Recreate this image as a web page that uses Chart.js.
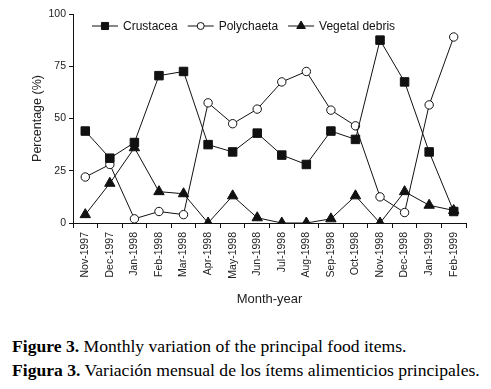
<!DOCTYPE html>
<html>
<head>
<meta charset="utf-8">
<script src="https://cdn.jsdelivr.net/npm/chart.js@4"></script>
<style>
  body { margin: 0; background: #fff; width: 491px; height: 389px; position: relative; overflow: hidden; }
  #wrap { position: absolute; left: 0; top: 0; width: 491px; height: 315px; }
  .cap { position: absolute; left: 12px; font-family: "Liberation Serif", "Times New Roman", serif; font-size: 17.6px; line-height: 20px; color: #000; white-space: nowrap; }
</style>
</head>
<body>
<div id="wrap"><canvas id="food"></canvas></div>
<div class="cap" style="top:336px"><b>Figure 3.</b> Monthly variation of the principal food items.</div>
<div class="cap" style="top:360px"><b>Figura 3.</b> Variación mensual de los ítems alimenticios principales.</div>
<script>
const months = ["Nov-1997", "Dec-1997", "Jan-1998", "Feb-1998", "Mar-1998", "Apr-1998", "May-1998", "Jun-1998",
  "Jul-1998", "Aug-1998", "Sep-1998", "Oct-1998", "Nov-1998", "Dec-1998", "Jan-1999", "Feb-1999"];
const crustacea = [44, 31, 38.5, 70.5, 72.5, 37.5, 34, 43, 32.5, 28, 44, 40, 87.5, 67.5, 34, 5.5];
const polychaeta = [22, 28, 2, 5.5, 4, 57.5, 47.5, 54.5, 67.5, 72.5, 54, 46.5, 12.5, 5, 56.5, 89];
const vegetal = [4, 19, 36, 15, 14, 0, 13, 2.5, 0, 0, 2, 13, 0, 15, 8.5, 6];
const yTicks = [0, 25, 50, 75, 100];

// leyenda dibujada a mano: línea - marcador - línea, como en la figura original
const legendaLinea = {
  id: "legendaLinea",
  afterDraw: (chart) => {
    const ctx = chart.ctx;
    ctx.save();
    ctx.font = "12px 'Liberation Sans', Arial, sans-serif";
    ctx.textBaseline = "middle";
    let x = 92;
    const y = 26;
    chart.data.datasets.forEach((ds) => {
      ctx.strokeStyle = "#111";
      ctx.lineWidth = 1;
      ctx.beginPath();
      ctx.moveTo(x, y);
      ctx.lineTo(x + 26, y);
      ctx.stroke();
      ctx.fillStyle = ds.pointBackgroundColor;
      Chart.helpers.drawPoint(ctx, {
        pointStyle: ds.pointStyle,
        radius: ds.legendRadius,
        rotation: 0,
        borderWidth: 1,
      }, x + 13, y);
      ctx.fillStyle = "#111";
      ctx.fillText(ds.label, x + 31, y + 1);
      x += 31 + ctx.measureText(ds.label).width + 10;
    });
    ctx.restore();
  },
};

const ctx = document.getElementById("food").getContext("2d");
new Chart(ctx, {
  type: "line",
  data: {
    labels: months,
    datasets: [
      {
        label: "Crustacea",
        data: crustacea,
        borderColor: "#111",
        borderWidth: 1,
        pointStyle: "rect",
        pointRadius: 6,
        legendRadius: 5,
        pointBackgroundColor: "#111",
        pointBorderColor: "#111",
        pointBorderWidth: 1,
        tension: 0,
      },
      {
        label: "Polychaeta",
        data: polychaeta,
        borderColor: "#111",
        borderWidth: 1,
        pointStyle: "circle",
        pointRadius: 4.2,
        legendRadius: 3.5,
        pointBackgroundColor: "#fff",
        pointBorderColor: "#111",
        pointBorderWidth: 1,
        tension: 0,
      },
      {
        label: "Vegetal debris",
        data: vegetal,
        borderColor: "#111",
        borderWidth: 1,
        pointStyle: "triangle",
        pointRadius: 6,
        legendRadius: 5,
        pointBackgroundColor: "#111",
        pointBorderColor: "#111",
        pointBorderWidth: 1,
        tension: 0,
      },
    ],
  },
  options: {
    responsive: true,
    maintainAspectRatio: false,
    animation: false,
    layout: { padding: { left: 0, right: 25, top: 14, bottom: 0 } },
    plugins: {
      legend: { display: false },
      tooltip: { enabled: false },
    },
    scales: {
      x: {
        offset: true,
        grid: { offset: true, drawOnChartArea: false, tickLength: 5, color: "#111" },
        border: { color: "#111", width: 1 },
        ticks: {
          maxRotation: 90,
          minRotation: 90,
          autoSkip: false,
          padding: 4,
          color: "#222",
          font: { family: "'Liberation Sans', Arial, sans-serif", size: 10.5 },
        },
        title: {
          display: true,
          text: "Month-year",
          color: "#222",
          padding: { top: 4, bottom: 8 },
          font: { family: "'Liberation Sans', Arial, sans-serif", size: 13 },
        },
        afterFit: (scale) => { scale.height = 315 - 223; },
      },
      y: {
        min: 0,
        max: 100,
        afterBuildTicks: (scale) => { scale.ticks = yTicks.map((v) => ({ value: v })); },
        grid: { drawOnChartArea: false, tickLength: 4, color: "#111" },
        border: { color: "#111", width: 1 },
        ticks: {
          padding: 3,
          color: "#222",
          font: { family: "'Liberation Sans', Arial, sans-serif", size: 10.5 },
        },
        title: {
          display: true,
          text: "Percentage (%)",
          color: "#222",
          padding: { top: 30, bottom: 0 },
          font: { family: "'Liberation Sans', Arial, sans-serif", size: 12.5 },
        },
        afterFit: (scale) => { scale.width = 73; },
      },
    },
  },
  plugins: [legendaLinea],
});
</script>
</body>
</html>
